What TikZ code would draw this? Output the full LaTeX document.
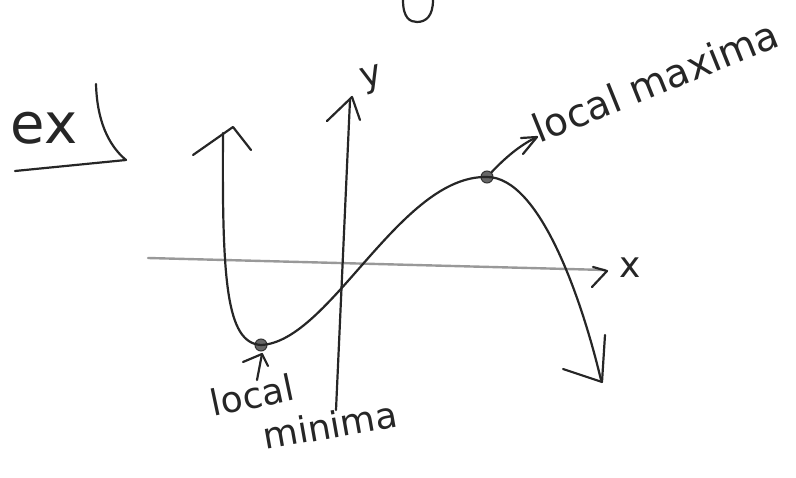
\documentclass[tikz,border=0pt]{standalone}
\usepackage{fontspec}
\setsansfont{DejaVu Sans}
\begin{document}
\begin{tikzpicture}[x=1pt,y=-1pt,
  pen/.style={line width=2.2pt, draw=black!85, line cap=round, line join=round},
  lightpen/.style={line width=2.4pt, draw=black!40, line cap=round},
  hand/.style={font=\sffamily\fontsize{36}{36}\selectfont, text=black!85, inner sep=0pt},
  dotnode/.style={circle, fill=black!60, draw=black!80, line width=1pt, inner sep=0pt, minimum size=12pt}]
\useasboundingbox (0,0) rectangle (796,478);

% partial letter at the top edge
\draw[pen] (403,0) .. controls (403,18) and (410,22) .. (417,22) .. controls (426,22) and (433,16) .. (433,0);

% "ex" heading with bracket
\node[hand, font=\sffamily\fontsize{56}{56}\selectfont, anchor=center] (ex) at (44,128) {ex};
\draw[pen] (96,84) .. controls (97,120) and (108,145) .. (126,160) -- (15,171);

% x-axis (light)
\coordinate (xl) at (148,258);
\coordinate (xr) at (605,270);
\draw[lightpen] (xl) -- (xr);
\draw[pen] (593,267) -- (607,271) -- (592,287);
\node[hand] (xlab) at (630,268) {x};

% y-axis
\coordinate (yb) at (336,410);
\coordinate (yt) at (350,100);
\draw[pen] (yb) -- (yt);
\draw[pen] (327,121) -- (352,97) -- (360,120);
\node[hand, rotate=15] (ylab) at (372,80) {y};

% curve
\node[dotnode] (minpt) at (261,345) {};
\node[dotnode] (maxpt) at (487,177) {};
\coordinate (ctop) at (223,133);
\coordinate (cend) at (601,380);
\draw[pen] (ctop) .. controls (222,280) and (226,343) .. (minpt.center)
  .. controls (330,342) and (400,175) .. (maxpt.center)
  .. controls (540,177) and (582,300) .. (cend);
\draw[pen] (193,155) -- (233,127) -- (251,150);
\draw[pen] (605,335) -- (602,382) -- (563,369);

% local minimum arrow and label
\coordinate (mintail) at (257,380);
\draw[pen] (mintail) -- (262,354);
\draw[pen] (243,362) -- (262,354) -- (268,366);
\node[hand, rotate=12] (loc1) at (252,395) {local};
\node[hand, rotate=10] (mini) at (330,425) {minima};

% local maximum arrow and label
\coordinate (maxtip) at (537,137);
\draw[pen] (maxpt) .. controls (505,158) and (520,145) .. (maxtip);
\draw[pen] (521,138) -- (537,137) -- (523,154);
\node[hand, font=\sffamily\fontsize{39}{39}\selectfont, rotate=22, anchor=south west] (maxlab) at (540,144) {local maxima};
\end{tikzpicture}
\end{document}
